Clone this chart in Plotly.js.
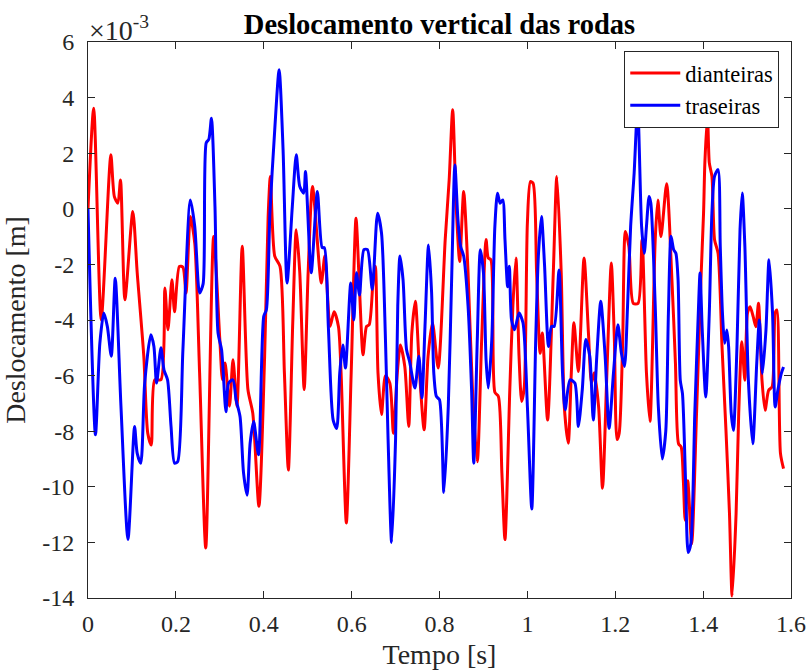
<!DOCTYPE html>
<html>
<head>
<meta charset="utf-8">
<script src="https://cdn.plot.ly/plotly-3.0.1.min.js"></script>
<style>
  html, body { margin: 0; padding: 0; background: #fff; }
  #chart { width: 810px; height: 670px; }
</style>
</head>
<body>
<div id="chart"></div>
<script>
// Time [s] and displacement (x 10^-3 m)
const tFront = [0,0.013,0.030,0.052,0.060,0.068,0.074,0.084,0.102,0.112,0.127,0.136,0.144,0.152,0.166,0.175,0.182,0.191,0.197,0.208,0.216,0.223,0.233,0.243,0.254,0.268,0.286,0.300,0.306,0.312,0.322,0.330,0.339,0.351,0.364,0.375,0.389,0.402,0.410,0.415,0.425,0.437,0.447,0.456,0.466,0.474,0.482,0.492,0.501,0.511,0.531,0.539,0.551,0.560,0.570,0.576,0.588,0.599,0.610,0.618,0.626,0.634,0.640,0.649,0.654,0.660,0.668,0.677,0.687,0.695,0.704,0.711,0.721,0.730,0.737,0.745,0.755,0.765,0.774,0.784,0.797,0.813,0.822,0.830,0.838,0.846,0.855,0.865,0.875,0.886,0.896,0.906,0.911,0.917,0.926,0.934,0.942,0.949,0.960,0.967,0.974,0.981,0.987,0.993,1.000,1.007,1.013,1.021,1.029,1.034,1.046,1.059,1.067,1.077,1.084,1.093,1.100,1.106,1.116,1.129,1.139,1.146,1.152,1.162,1.171,1.181,1.191,1.198,1.204,1.209,1.217,1.223,1.231,1.241,1.252,1.261,1.271,1.279,1.291,1.297,1.304,1.317,1.329,1.337,1.344,1.350,1.355,1.359,1.365,1.374,1.385,1.395,1.401,1.404,1.410,1.414,1.420,1.426,1.434,1.443,1.452,1.460,1.466,1.475,1.481,1.488,1.495,1.501,1.507,1.514,1.520,1.526,1.534,1.541,1.549,1.557,1.564,1.568,1.576,1.583];
const yFront = [0,3.62,-4.0,1.94,0.44,0.2,1.04,-3.27,-0.1,-2.3,-5.3,-8.07,-8.5,-6.15,-6.15,-2.85,-4.35,-2.55,-3.7,-2.07,-2.1,-3.03,-0.28,-1.24,-5.9,-12.2,-1.0,-4.7,-6.15,-5.55,-7.1,-5.43,-7.1,-1.35,-6.5,-7.35,-10.7,-5.3,-0.28,1.16,-1.7,-2.07,-5.9,-9.4,-4.1,-0.75,-2.3,-6.5,-2.3,0.8,-2.67,-1.7,-4.23,-3.7,-4.23,-5.9,-11.3,-5.9,-0.34,-2.9,-5.25,-4.23,-4.17,-2.55,-2.07,-5.9,-7.4,-6.0,-6.27,-8.07,-5.9,-4.9,-5.67,-7.83,-4.47,-3.33,-6.0,-7.95,-5.3,-4.1,-5.73,-1.1,1.04,3.56,0.08,-1.9,0.62,-2.3,-6.5,-9.1,-4.7,-1.1,-1.77,-1.83,-6.6,-6.75,-9.5,-11.9,-6.5,-3.5,-1.77,-5.3,-6.93,-6.4,-0.52,0.98,0.92,-2.3,-5.2,-4.47,-7.6,-2.3,1.16,-2.3,-7.1,-8.43,-5.9,-4.1,-5.85,-1.77,-4.47,-6.27,-5.9,-7.1,-10.05,-5.9,-1.95,-4.7,-8.3,-8.07,-4.7,-0.82,-1.35,-3.4,-3.4,-1.1,-5.9,-7.65,-1.1,0.32,-1.0,0.9,-2.56,-5.55,-8.45,-8.57,-9.78,-11.2,-9.78,-12.06,-7.37,-2.56,-0.15,1.67,3.34,1.66,1.17,-1.11,-1.6,-4.96,-7.97,-10.97,-13.93,-10.97,-7.36,-4.78,-6.17,-3.75,-3.52,-3.88,-4.24,-3.4,-6.17,-7.25,-6.53,-6.4,-3.75,-3.64,-8.8,-9.35];

const tRear = [0,0.017,0.027,0.036,0.044,0.053,0.062,0.075,0.091,0.106,0.112,0.120,0.129,0.143,0.150,0.156,0.166,0.173,0.181,0.189,0.197,0.204,0.216,0.233,0.243,0.254,0.262,0.269,0.275,0.281,0.289,0.296,0.304,0.314,0.320,0.330,0.337,0.346,0.354,0.362,0.369,0.377,0.388,0.400,0.406,0.414,0.425,0.435,0.444,0.453,0.465,0.474,0.482,0.491,0.495,0.508,0.522,0.533,0.538,0.547,0.558,0.566,0.573,0.580,0.586,0.598,0.605,0.611,0.618,0.628,0.636,0.647,0.659,0.668,0.677,0.683,0.691,0.700,0.705,0.710,0.717,0.725,0.732,0.744,0.753,0.760,0.767,0.775,0.782,0.787,0.793,0.800,0.810,0.820,0.828,0.835,0.842,0.848,0.855,0.865,0.873,0.878,0.886,0.893,0.900,0.906,0.911,0.919,0.926,0.932,0.938,0.944,0.949,0.955,0.959,0.964,0.971,0.981,0.990,1.000,1.010,1.019,1.025,1.032,1.039,1.048,1.055,1.061,1.072,1.080,1.086,1.097,1.108,1.116,1.125,1.133,1.142,1.150,1.158,1.167,1.177,1.186,1.196,1.206,1.214,1.221,1.228,1.235,1.243,1.251,1.260,1.266,1.271,1.277,1.281,1.291,1.298,1.307,1.315,1.321,1.327,1.333,1.338,1.343,1.348,1.353,1.360,1.366,1.372,1.381,1.389,1.393,1.398,1.406,1.414,1.420,1.426,1.434,1.439,1.444,1.449,1.454,1.458,1.464,1.469,1.477,1.484,1.489,1.495,1.503,1.513,1.522,1.528,1.535,1.543,1.550,1.558,1.564,1.570,1.578,1.583];
const yRear = [0,-8.13,-4.83,-3.75,-4.23,-5.3,-2.5,-7.1,-11.9,-7.83,-8.8,-9.15,-6.27,-4.53,-4.95,-6.27,-5.0,-5.8,-6.15,-7.83,-9.15,-9.1,-5.07,0.32,-0.64,-3.03,-2.7,2.37,2.5,3.26,0.08,-4.47,-5.07,-7.3,-6.27,-6.15,-6.87,-7.47,-9.5,-10.3,-8.43,-7.65,-8.85,-3.87,-3.63,-0.16,2.84,5.0,2.12,-2.67,0.08,1.94,0.8,0.56,1.34,-2.3,0.62,-1.4,-1.4,-4.23,-7.6,-7.9,-5.9,-4.9,-5.73,-2.67,-4.0,-2.3,-3.1,-1.47,-1.47,-2.9,-0.16,-0.87,-4.7,-8.3,-12.0,-8.3,-3.5,-1.7,-2.55,-5.07,-5.5,-6.45,-5.3,-6.8,-4.23,-1.3,-3.0,-5.9,-6.75,-6.87,-10.2,-7.1,-2.3,1.58,-0.4,-1.35,-1.7,-3.5,-6.5,-9.15,-4.7,-1.47,-2.3,-5.43,-6.45,-4.7,-0.64,0.56,0.2,0.32,-1.1,-2.8,-2.07,-4.0,-4.35,-3.75,-4.1,-7.1,-10.8,-4.7,-1.7,-0.28,-2.0,-4.95,-4.23,-4.23,-2.2,-5.9,-7.23,-6.15,-6.27,-7.83,-6.5,-4.7,-5.3,-7.6,-5.3,-3.33,-5.3,-7.9,-5.9,-4.17,-5.2,-5.67,-3.5,-0.64,1.28,3.7,-0.64,-1.6,-0.64,0.44,0.2,-3.5,-7.1,-9.0,-8.0,-3.76,-0.99,-1.47,-1.6,-2.56,-6.17,-6.65,-9.78,-12.36,-12.05,-7.37,-3.76,-2.31,-4.36,-6.77,-3.76,-0.15,1.17,1.41,-1.35,-3.76,-4.84,-4.36,-4.96,-7.37,-7.97,-4.96,-0.75,0.57,-1.35,-6.17,-8.45,-5.56,-4.0,-5.92,-4.36,-1.83,-3.76,-7.13,-6.53,-5.92,-5.69];

const seriesNames = ['dianteiras', 'traseiras'];
const xTicks = [0, 0.2, 0.4, 0.6, 0.8, 1, 1.2, 1.4, 1.6];
const xTickText = ['0', '0.2', '0.4', '0.6', '0.8', '1', '1.2', '1.4', '1.6'];
const yTicks = [-14, -12, -10, -8, -6, -4, -2, 0, 2, 4, 6];
const yTickText = ['-14', '-12', '-10', '-8', '-6', '-4', '-2', '0', '2', '4', '6'];

const FONT = 'Times New Roman, Liberation Serif, serif';
const AX = '#262626';

const traces = [
  { x: tFront, y: yFront, name: seriesNames[0], mode: 'lines',
    line: { color: '#ff0000', width: 3, shape: 'spline', smoothing: 0.7 } },
  { x: tRear, y: yRear, name: seriesNames[1], mode: 'lines',
    line: { color: '#0000ff', width: 3, shape: 'spline', smoothing: 0.7 } }
];

const axisCommon = {
  showgrid: false, zeroline: false, showline: true, linecolor: AX, linewidth: 1,
  mirror: 'ticks', ticks: 'inside', ticklen: 7, tickwidth: 1, tickcolor: AX,
  tickfont: { family: FONT, size: 24, color: AX }, automargin: false
};

const layout = {
  width: 810, height: 670,
  margin: { l: 88, r: 19, t: 42, b: 72, pad: 0 },
  paper_bgcolor: '#ffffff', plot_bgcolor: '#ffffff',
  title: { text: '<b>Deslocamento vertical das rodas</b>', font: { family: FONT, size: 28.5, color: '#000' },
           x: 0.5426, xanchor: 'center', y: 0.964, yanchor: 'middle', yref: 'container' },
  xaxis: Object.assign({}, axisCommon, {
    range: [0, 1.6], tickmode: 'array', tickvals: xTicks, ticktext: xTickText,
    ticklabelstandoff: 4,
    title: { text: 'Tempo [s]', font: { family: FONT, size: 28, color: AX }, standoff: 8 }
  }),
  yaxis: Object.assign({}, axisCommon, {
    range: [-14, 6], tickmode: 'array', tickvals: yTicks, ticktext: yTickText,
    ticklabelstandoff: 8,
    title: { text: 'Deslocamento [m]', font: { family: FONT, size: 28, color: AX }, standoff: 10 }
  }),
  showlegend: true,
  legend: {
    x: 0.9833, xanchor: 'right', y: 0.984, yanchor: 'top',
    bgcolor: '#ffffff', bordercolor: AX, borderwidth: 1,
    font: { family: FONT, size: 22.5, color: '#000' }, itemwidth: 50, tracegroupgap: 0
  },
  annotations: [
    { text: '×10<sup>-3</sup>', xref: 'paper', yref: 'paper', x: 0, y: 1, xanchor: 'left', yanchor: 'bottom',
      showarrow: false, font: { family: FONT, size: 28, color: AX }, xshift: -1, yshift: -6 }
  ]
};

Plotly.newPlot('chart', traces, layout, { displayModeBar: false, staticPlot: true });
</script>
</body>
</html>
